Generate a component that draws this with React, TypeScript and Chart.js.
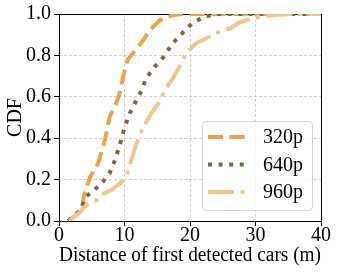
import React, { useEffect, useRef } from "react";
import { Chart, registerables } from "chart.js";

Chart.register(...registerables);

const seriesLabels = ["320p", "640p", "960p"];
const seriesColors = ["#eca24a", "#806244", "#f2c58c"];
const seriesDashes = [[15, 6.5], [4, 6.6], [26, 6.5, 4, 6.5]];

const x320 = [1.4, 2.6, 3.5, 3.8, 4.7, 6.0, 7.0, 7.7, 8.75, 9.3, 9.8, 10.5, 11.8, 12.8, 13.8, 15.4, 17.4, 18.9, 40];
const y320 = [0, 0.03, 0.05, 0.12, 0.21, 0.28, 0.39, 0.5, 0.57, 0.62, 0.7, 0.78, 0.83, 0.87, 0.92, 0.97, 0.995, 1.0, 1.0];

const x640 = [1.4, 3.2, 4.2, 5.4, 6.7, 7.7, 8.5, 9.3, 10.0, 10.8, 11.6, 12.6, 13.3, 14.6, 15.9, 17.4, 18.9, 20.5, 22.5, 24.5, 40];
const y640 = [0, 0.05, 0.12, 0.15, 0.19, 0.23, 0.29, 0.37, 0.45, 0.52, 0.57, 0.63, 0.69, 0.745, 0.79, 0.86, 0.91, 0.96, 0.99, 1.0, 1.0];

const x960 = [1.6, 3.4, 4.2, 5.7, 6.7, 8.0, 9.3, 10.3, 11.0, 11.8, 12.8, 14.1, 15.4, 16.1, 17.2, 18.4, 19.4, 21.0, 23.0, 24.5, 26.1, 27.6, 29.6, 32.7, 35.7, 40];
const y960 = [0, 0.05, 0.08, 0.1, 0.13, 0.15, 0.18, 0.22, 0.29, 0.37, 0.45, 0.52, 0.58, 0.63, 0.68, 0.745, 0.81, 0.86, 0.89, 0.915, 0.93, 0.96, 0.98, 0.995, 1.0, 1.0];

const xTicks = [0, 10, 20, 30, 40];
const yTicks = [0, 0.2, 0.4, 0.6, 0.8, 1.0];
const xTitle = "Distance of first detected cars (m)";
const yTitle = "CDF";

const FONT = "'Liberation Serif', 'Times New Roman', serif";

const toPoints = (xs: number[], ys: number[]) => xs.map((x, i) => ({ x, y: ys[i] }));

const framePlugin = {
  id: "frame",
  beforeDatasetsDraw(chart: any) {
    const { ctx, chartArea } = chart;
    ctx.save();
    ctx.strokeStyle = "#000";
    ctx.lineWidth = 1;
    ctx.strokeRect(
      Math.round(chartArea.left) + 0.5,
      Math.round(chartArea.top) + 0.5,
      Math.round(chartArea.right - chartArea.left),
      Math.round(chartArea.bottom - chartArea.top)
    );
    ctx.restore();
  },
};

const legendPlugin = {
  id: "boxLegend",
  afterDraw(chart: any) {
    const { ctx } = chart;
    const bx = 202.5, by = 121.5, bw = 110, bh = 89, r = 4;
    ctx.save();
    ctx.beginPath();
    ctx.moveTo(bx + r, by);
    ctx.lineTo(bx + bw - r, by);
    ctx.quadraticCurveTo(bx + bw, by, bx + bw, by + r);
    ctx.lineTo(bx + bw, by + bh - r);
    ctx.quadraticCurveTo(bx + bw, by + bh, bx + bw - r, by + bh);
    ctx.lineTo(bx + r, by + bh);
    ctx.quadraticCurveTo(bx, by + bh, bx, by + bh - r);
    ctx.lineTo(bx, by + r);
    ctx.quadraticCurveTo(bx, by, bx + r, by);
    ctx.closePath();
    ctx.fillStyle = "rgba(255,255,255,0.8)";
    ctx.fill();
    ctx.strokeStyle = "#d4d4d4";
    ctx.lineWidth = 1;
    ctx.stroke();
    const rowYs = [137, 164.5, 192];
    chart.data.datasets.forEach((ds: any, i: number) => {
      const y = rowYs[i];
      ctx.beginPath();
      ctx.setLineDash(ds.borderDash);
      ctx.lineCap = "butt";
      ctx.strokeStyle = ds.borderColor;
      ctx.lineWidth = ds.borderWidth;
      ctx.moveTo(208, y);
      ctx.lineTo(248, y);
      ctx.stroke();
      ctx.setLineDash([]);
      ctx.fillStyle = "#000";
      ctx.font = `20px ${FONT}`;
      ctx.textBaseline = "middle";
      ctx.textAlign = "left";
      ctx.fillText(ds.label, 263, y + 1);
    });
    ctx.restore();
  },
};

export default function App() {
  const ref = useRef<HTMLCanvasElement>(null);
  useEffect(() => {
    if (!ref.current) return;
    const seriesX = [x320, x640, x960];
    const seriesY = [y320, y640, y960];
    const chart = new Chart(ref.current, {
      type: "scatter",
      data: {
        datasets: seriesLabels.map((label, i) => ({
          label,
          data: toPoints(seriesX[i], seriesY[i]),
          showLine: true,
          borderColor: seriesColors[i],
          backgroundColor: seriesColors[i],
          borderWidth: 4,
          borderDash: seriesDashes[i],
          borderCapStyle: "butt",
          borderJoinStyle: "round",
          pointRadius: 0,
          pointHoverRadius: 0,
          tension: 0,
          order: 3 - i,
        })),
      },
      options: {
        responsive: false,
        animation: false,
        devicePixelRatio: 1,
        layout: { padding: { top: 14, right: 17, left: 0, bottom: 0 } },
        plugins: { legend: { display: false }, tooltip: { enabled: false } },
        scales: {
          x: {
            type: "linear",
            min: 0,
            max: 40,
            afterFit: (s: any) => { s.height = 53; },
            afterBuildTicks: (s: any) => { s.ticks = xTicks.map((v) => ({ value: v })); },
            ticks: {
              font: { family: FONT, size: 20, lineHeight: 1.0 },
              color: "#000",
              padding: 0,
              maxRotation: 0,
              callback: (v: any) => String(v),
            },
            grid: {
              color: "#c4c4c4",
              lineWidth: 0.8,
              tickColor: "#000",
              tickLength: 5,
              tickWidth: 1,
              tickBorderDash: [],
            },
            border: { display: false, dash: [3, 2] },
            title: {
              display: true,
              text: xTitle,
              font: { family: FONT, size: 20 },
              color: "#000",
              padding: { top: 0, bottom: 6 },
            },
          },
          y: {
            type: "linear",
            min: 0,
            max: 1,
            afterFit: (s: any) => { s.width = 59; },
            afterBuildTicks: (s: any) => { s.ticks = yTicks.map((v) => ({ value: v })); },
            ticks: {
              font: { family: FONT, size: 20, lineHeight: 1.0 },
              color: "#000",
              padding: 3,
              callback: (v: any) => Number(v).toFixed(1),
            },
            grid: {
              color: "#c4c4c4",
              lineWidth: 0.8,
              tickColor: "#000",
              tickLength: 5,
              tickWidth: 1,
              tickBorderDash: [],
            },
            border: { display: false, dash: [3, 2] },
            title: {
              display: true,
              text: yTitle,
              font: { family: FONT, size: 20 },
              color: "#000",
              padding: { top: 4, bottom: 0 },
            },
          },
        },
      },
      plugins: [framePlugin, legendPlugin],
    } as any);
    return () => chart.destroy();
  }, []);
  return (
    <div style={{ position: "absolute", left: 0, top: 0, width: 338, height: 274, background: "#fff" }}>
      <canvas ref={ref} width={338} height={274} style={{ width: 338, height: 274, display: "block" }} />
    </div>
  );
}
